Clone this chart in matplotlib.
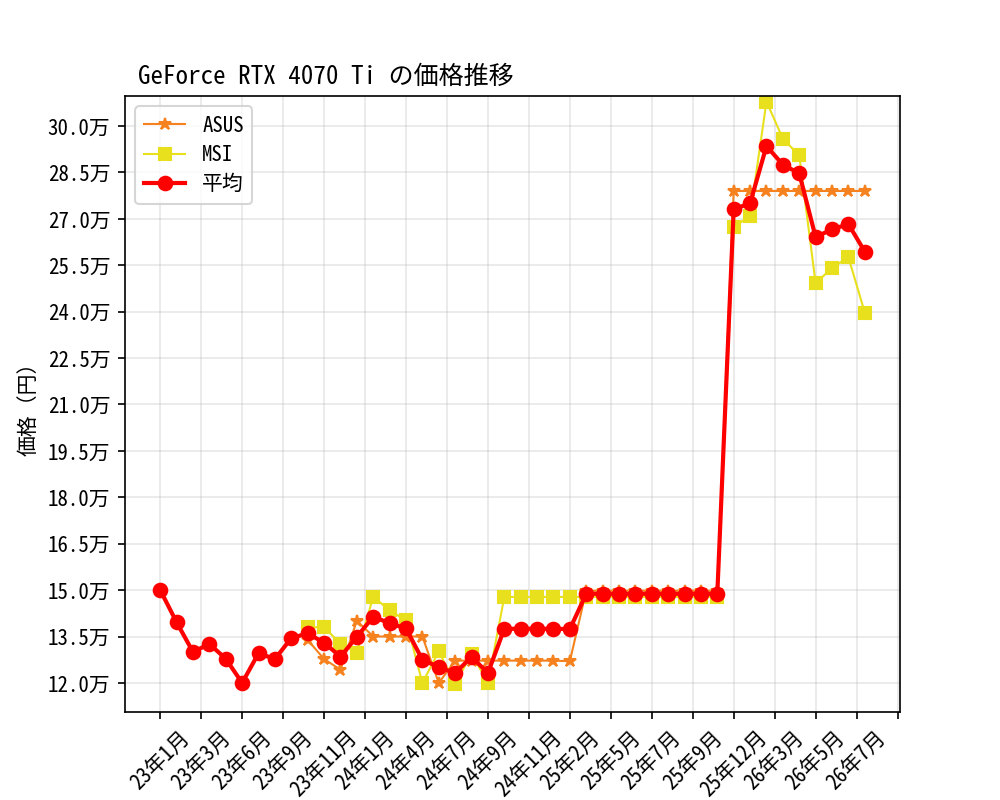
import numpy as np
import matplotlib
matplotlib.use("Agg")
from matplotlib import pyplot as plt
from matplotlib.ticker import FuncFormatter

plt.rcParams['font.family'] = ['Noto Sans Mono CJK JP', 'Noto Sans CJK JP', 'DejaVu Sans']

nan = np.nan

## prices in yen, one value per survey point
asus = [nan] * 9 + [
    133900, 127700, 124300, 140100, 135000, 135000, 135000, 135000, 120000,
    127200, 127200, 127200, 127200, 127200, 127200, 127200, 127000,
    149800, 149800, 149800, 149800, 149800, 149800, 149800, 149800, 149800,
    279000, 279000, 279000, 279000, 279000, 279000, 279000, 279000, 279000,
]
msi = [nan] * 9 + [
    138000, 138000, 132700, 129700, 147800, 143500, 140200, 120000, 130200,
    119600, 129500, 120000, 147800, 147800, 147800, 147800, 147800,
    147800, 147800, 147800, 147800, 147800, 147800, 147800, 147800, 147800,
    267300, 271000, 307900, 295900, 290500, 249200, 254100, 257600, 239700,
]
average = [
    150000, 139600, 130000, 132600, 127800, 120000, 129600, 127700, 134500,
    136000, 133000, 128500, 134900, 141400, 139300, 137600, 127500, 125100,
    123200, 128400, 123200, 137500, 137500, 137500, 137500, 137400,
    148800, 148800, 148800, 148800, 148800, 148800, 148800, 148800, 148800,
    273100, 275000, 293500, 287500, 284700, 264100, 266600, 268300, 259400,
]

tick_labels = ['23年1月', '23年3月', '23年6月', '23年9月', '23年11月', '24年1月',
               '24年4月', '24年7月', '24年9月', '24年11月', '25年2月', '25年5月',
               '25年7月', '25年9月', '25年12月', '26年3月', '26年5月', '26年7月', '']

x = np.arange(len(average))

fig, ax = plt.subplots(figsize=(20 / 3, 16 / 3))

ax.plot(x, asus, color="#f5821f", marker="*", linewidth=1, label="ASUS")
ax.plot(x, msi, color="#e8e01c", marker="s", linewidth=1, label="MSI")
ax.plot(x, average, color="red", marker="o", markersize=6.5, linewidth=2, label="平均")

ax.set_xticks(np.arange(len(tick_labels)) * 2.5)
ax.set_xticklabels(tick_labels, rotation=45)
ax.set_yticks(np.arange(120000, 300001, 15000))
ax.yaxis.set_major_formatter(FuncFormatter(lambda v, p: f"{v / 10000:.1f}万"))
ax.set_ylim(110600, 309700)

ax.set_ylabel("価格（円）")
ax.set_title("GeForce RTX 4070 Ti の価格推移", loc="left", x=0.017)
ax.grid(True, alpha=0.3)
ax.legend(loc="upper left", labelspacing=0.35)

fig.savefig("out.png", dpi=150)
